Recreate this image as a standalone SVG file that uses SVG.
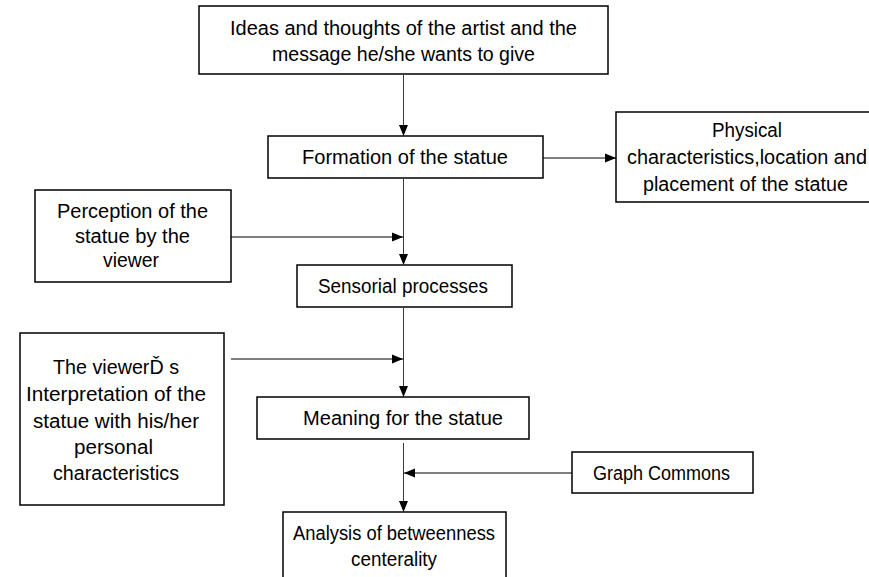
<svg xmlns="http://www.w3.org/2000/svg" width="869" height="577" viewBox="0 0 869 577">
<style>
.box{fill:#fff;stroke:#000;stroke-width:1.5}
text{font-family:"Liberation Sans",Arial,sans-serif;font-size:19.5px;fill:#000;text-anchor:middle}
.ln{stroke:#000;stroke-width:1;fill:none;marker-end:url(#ah)}
.v{stroke:#3a3a3a}
</style>
<defs>
<marker id="ah" markerUnits="userSpaceOnUse" markerWidth="12" markerHeight="10" refX="11" refY="5" orient="auto">
<path d="M0,0.5 L11,5 L0,9.5 z" fill="#000"/>
</marker>
</defs>
<rect width="869" height="577" fill="#fff"/>
<g id="n-ideas">
<rect class="box" x="199" y="6" width="409" height="68"/>
<text x="403.5" y="35" textLength="347" lengthAdjust="spacingAndGlyphs">Ideas and thoughts of the artist and the</text>
<text x="403.5" y="61" textLength="263" lengthAdjust="spacingAndGlyphs">message he/she wants to give</text>
</g>
<g id="n-formation">
<rect class="box" x="268" y="136" width="275" height="42"/>
<text x="405" y="164" textLength="206" lengthAdjust="spacingAndGlyphs">Formation of the statue</text>
</g>
<g id="n-physical">
<rect class="box" x="616" y="112" width="270" height="90"/>
<text x="747" y="137" textLength="70" lengthAdjust="spacingAndGlyphs">Physical</text>
<text x="747" y="164" textLength="240" lengthAdjust="spacingAndGlyphs">characteristics,location and</text>
<text x="745.5" y="191" textLength="205" lengthAdjust="spacingAndGlyphs">placement of the statue</text>
</g>
<g id="n-perception">
<rect class="box" x="35" y="190" width="196" height="92"/>
<text x="132.5" y="218" textLength="151" lengthAdjust="spacingAndGlyphs">Perception of the</text>
<text x="132.5" y="243" textLength="115" lengthAdjust="spacingAndGlyphs">statue by the</text>
<text x="131" y="267" textLength="56" lengthAdjust="spacingAndGlyphs">viewer</text>
</g>
<g id="n-sensorial">
<rect class="box" x="297" y="265" width="215" height="42"/>
<text x="403" y="293" textLength="170" lengthAdjust="spacingAndGlyphs">Sensorial processes</text>
</g>
<g id="n-viewer">
<rect class="box" x="20" y="333" width="204" height="172"/>
<text x="116" y="374" textLength="126" lengthAdjust="spacingAndGlyphs">The viewerĎ s</text>
<text x="116" y="401" textLength="180" lengthAdjust="spacingAndGlyphs">Interpretation of the</text>
<text x="116" y="428" textLength="166" lengthAdjust="spacingAndGlyphs">statue with his/her</text>
<text x="113.5" y="454" textLength="79" lengthAdjust="spacingAndGlyphs">personal</text>
<text x="116" y="480" textLength="126" lengthAdjust="spacingAndGlyphs">characteristics</text>
</g>
<g id="n-meaning">
<rect class="box" x="257" y="397" width="272" height="42"/>
<text x="403" y="425" textLength="200" lengthAdjust="spacingAndGlyphs">Meaning for the statue</text>
</g>
<g id="n-graph">
<rect class="box" x="572" y="452" width="181" height="41"/>
<text x="661.5" y="480" textLength="137" lengthAdjust="spacingAndGlyphs">Graph Commons</text>
</g>
<g id="n-analysis">
<rect class="box" x="283" y="512" width="223" height="72"/>
<text x="394" y="540" textLength="202" lengthAdjust="spacingAndGlyphs">Analysis of betweenness</text>
<text x="394" y="566" textLength="86" lengthAdjust="spacingAndGlyphs">centerality</text>
</g>
<g id="connectors">
<line class="ln v" x1="403.5" y1="75" x2="403.5" y2="136"/>
<line class="ln" x1="543" y1="158" x2="616" y2="158"/>
<line class="ln v" x1="403.5" y1="179" x2="403.5" y2="265"/>
<line class="ln" x1="231" y1="237" x2="403" y2="237"/>
<line class="ln v" x1="403.5" y1="308" x2="403.5" y2="397"/>
<line class="ln" x1="231" y1="359" x2="403" y2="359"/>
<line class="ln v" x1="403.5" y1="443" x2="403.5" y2="512"/>
<line class="ln" x1="572" y1="473" x2="404" y2="473"/>
</g>
</svg>
